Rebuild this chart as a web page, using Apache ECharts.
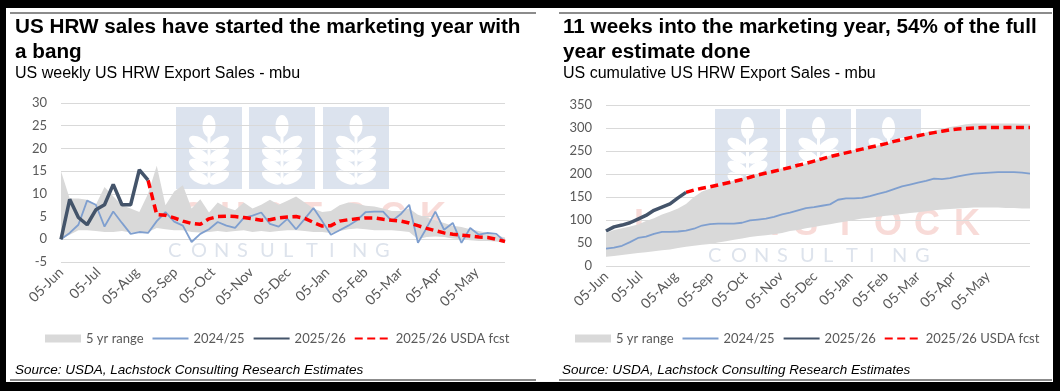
<!DOCTYPE html>
<html><head><meta charset="utf-8">
<script src="https://cdn.jsdelivr.net/npm/echarts@6/dist/echarts.min.js"></script>
<style>html,body{margin:0;padding:0;background:#fff}#c{width:1064px;height:391px}</style>
</head><body><div id="c"></div>
<script>
// ---- tick labels (x axis: days since 05-Jun) ----
const tickLabels = ['05-Jun','05-Jul','05-Aug','05-Sep','05-Oct','05-Nov','05-Dec','05-Jan','05-Feb','05-Mar','05-Apr','05-May'];
const tickDays   = [0,30,61,92,122,153,183,214,245,273,304,334];
const legendNames = ['5 yr range','2024/25','2025/26','2025/26 USDA fcst'];

// ---- left panel: weekly export sales (mbu), week 0 = 05-Jun ----
const weeklyBandHigh = [15.0,9.0,9.0,8.7,7.6,11.5,9.5,7.5,6.8,6.0,10.0,16.2,7.5,10.5,11.9,6.8,8.8,5.9,8.1,7.0,6.4,8.1,6.8,7.6,8.7,7.6,8.5,9.4,8.1,6.8,6.0,6.2,7.5,8.1,7.8,7.4,7.2,6.8,6.2,6.2,6.8,5.4,4.8,4.2,3.6,3.0,2.7,2.2,1.8,1.4,0.9,0.4];
const weeklyBandLow  = [0,1.0,2.0,2.0,1.8,1.6,1.6,1.8,1.5,1.5,1.6,2.5,2.2,2.0,2.0,1.6,1.5,1.6,1.8,1.6,1.8,2.0,1.6,1.8,1.6,1.8,2.0,2.0,1.8,1.6,1.6,1.4,1.8,2.2,2.4,2.2,2.0,2.0,2.0,1.8,1.6,0.0,0.5,0.6,0.5,0.2,0.0,-0.2,-0.4,-0.4,-0.5,-0.8];
const weekly2425 = [0,1.4,3.2,8.5,7.6,2.8,6.1,3.6,1.2,1.6,1.4,4.0,6.0,3.9,3.0,-0.6,1.2,2.2,3.8,3.0,2.5,4.7,5.2,5.9,3.4,2.8,4.5,2.2,4.5,6.9,4.0,1.0,2.0,3.0,4.2,6.0,6.1,6.1,4.0,5.5,7.6,-0.8,2.5,6.1,2.1,3.6,-0.8,2.5,1.0,1.4,1.2,-0.5];
const weekly2526 = [0,8.8,4.8,3.2,6.5,7.6,12.1,7.6,7.6,15.3,13.0];           // weeks 0-10
const weeklyFcst = [13.0,5.4,5.3,4.7,4.0,3.5,3.3,4.5,5.0,5.1,5.0,4.8,4.5,4.2,4.3,4.7,4.9,5.0,4.6,3.7,2.9,3.0,4.0,4.3,4.5,4.7,4.7,4.4,4.2,4.0,3.6,3.0,2.4,1.9,1.4,1.1,0.9,0.7,0.5,0.4,0.0,-0.5]; // weeks 10-51

// ---- right panel: cumulative export sales (mbu) ----
const cumBandHigh = [72,78,82,86,90,98,104,112,118,125,135,150,162,168,174,180,186,192,196,200,204,208,212,216,219,223,228,234,240,244,248,252,255,258,262,266,270,275,280,285,290,294,298,302,305,308,310,310,310,310,310,310,309,309];
const cumBandLow  = [20,22,24,26,28,30,32,34,36,39,42,44,46,48,51,54,57,60,63,65,67,69,72,76,78,82,85,88,91,94,97,100,103,105,107,109,111,113,115,117,119,121,123,124,125,126,127,127,127,127,126,126,125,125];
const cum2425 = [38,40,44,52,61,64,70,74,74,75,77,81,88,91,92,92,92,94,99,101,103,107,112,116,121,126,128,131,134,144,147,147,148,152,157,161,167,173,177,181,185,190,189,191,195,198,201,202,203,204,204,204,203,201];
const cum2526 = [76,85,89,94,102,110,121,128,135,148,160];                   // weeks 0-10
const cumFcst = [160,165,169,172,176,180,184,188,193,198,202,206,210,214,219,223,228,233,238,242,246,250,254,258,262,266,271,275,279,283,287,290,293,296,298,299,300,301,301,301,301,301,301,301]; // weeks 10-53
const FCST_START_WEEK = 10;

// ---- helpers ----
const weekCats = n => Array.from({ length: n }, (_, i) => 'W' + i);
const pad = (vals, start) => new Array(start).fill(null).concat(vals);
const diff = (hi, lo) => hi.map((v, i) => +(v - lo[i]).toFixed(3));

const GREY = '#595959';
const AX_FONT = 'Lato';

function panelSeries(idx, bandLow, bandHigh, prev, cur, fcst) {
  const ax = { xAxisIndex: idx * 2, yAxisIndex: idx };
  const stack = 'band' + idx;
  return [
    { ...ax, type: 'line', name: 'base' + idx, stack, stackStrategy: 'all', data: bandLow,
      symbol: 'none', lineStyle: { opacity: 0, width: 0 }, silent: true, z: 2 },
    { ...ax, type: 'line', name: legendNames[0], stack, stackStrategy: 'all', data: diff(bandHigh, bandLow),
      symbol: 'none', color: '#d9d9d9', lineStyle: { opacity: 0, width: 0 }, areaStyle: { color: '#d9d9d9', opacity: 1 }, silent: true, z: 2 },
    { ...ax, type: 'line', name: legendNames[1], data: prev, symbol: 'none', color: '#7f9fcf',
      lineStyle: { width: 1.8 }, z: 3 },
    { ...ax, type: 'line', name: legendNames[3], data: pad(fcst, FCST_START_WEEK), symbol: 'none', color: '#ff0000',
      lineStyle: { width: 3.5, type: [8, 4.5] }, z: 4 },
    { ...ax, type: 'line', name: legendNames[2], data: cur, symbol: 'none', color: '#44546a',
      lineStyle: { width: 3.5 }, z: 5 }
  ];
}

function xAxesFor(idx, nWeeks) {
  return [
    { // data axis: one category per week
      type: 'category', gridIndex: idx, data: weekCats(nWeeks), boundaryGap: false,
      axisLine: { show: false }, axisTick: { show: false }, axisLabel: { show: false }, splitLine: { show: false }
    },
    { // label axis: days since 05-Jun, same pixel span
      type: 'value', gridIndex: idx, min: 0, max: (nWeeks - 1) * 7,
      position: 'bottom',
      axisLine: { show: false, onZero: false }, axisTick: { show: false }, splitLine: { show: false },
      axisLabel: {
        customValues: tickDays, rotate: 45, margin: 8, color: GREY, fontFamily: AX_FONT, fontSize: 14,
        formatter: v => tickLabels[tickDays.indexOf(v)]
      }
    }
  ];
}
function yAxisFor(idx, min, max, step) {
  return {
    type: 'value', gridIndex: idx, min, max, interval: step,
    axisLine: { show: false }, axisTick: { show: false },
    splitLine: { lineStyle: { color: '#d9d9d9', width: 1 } },
    axisLabel: { margin: 14, color: GREY, fontFamily: AX_FONT, fontSize: 13 }
  };
}
function legendAt(left) {
  return {
    left, top: 327, width: 480, itemWidth: 36, itemHeight: 8, itemGap: 8, selectedMode: false,
    itemStyle: { opacity: 0 },
    textStyle: { color: GREY, fontFamily: AX_FONT, fontSize: 13 },
    data: [
      { name: legendNames[0], icon: 'rect', itemStyle: { opacity: 1, color: '#d9d9d9' } },
      legendNames[1], legendNames[2], legendNames[3]
    ]
  };
}

// ---- watermark logo ----
function logo(o) {
  const els = [];
  o.sqX.forEach(sx => {
    els.push({ type: 'rect', silent: true, z: 0, shape: { x: sx, y: o.sqY, width: o.sqW, height: o.sqH }, style: { fill: '#dce3ee' } });
    const cx = sx + o.sqW / 2;
    els.push({ type: 'ellipse', silent: true, z: 0, x: cx, y: o.sqY + 19, shape: { cx: 0, cy: 0, rx: 6.5, ry: 11 }, style: { fill: '#fff' } });
    els.push({ type: 'rect', silent: true, z: 0, shape: { x: cx - 1.5, y: o.sqY + 24, width: 3, height: o.sqH - 32 }, style: { fill: '#fff' } });
    for (let k = 0; k < 4; k++) {
      const y = o.sqY + 36 + k * 11.5;
      els.push({ type: 'ellipse', silent: true, z: 0, x: cx - 10, y, rotation: -0.5, shape: { cx: 0, cy: 0, rx: 11, ry: 5.5 }, style: { fill: '#fff' } });
      els.push({ type: 'ellipse', silent: true, z: 0, x: cx + 10, y, rotation: 0.5, shape: { cx: 0, cy: 0, rx: 11, ry: 5.5 }, style: { fill: '#fff' } });
    }
  });
  'LACHSTOCK'.split('').forEach((ch, i) => {
    els.push({ type: 'text', silent: true, z: 0, x: o.lachX + i * 40, y: o.lachY,
      style: { text: ch, font: 'bold 36px "Liberation Sans"', fill: '#f8dbd8', verticalAlign: 'middle' } });
  });
  'CONSULTING'.split('').forEach((ch, i) => {
    els.push({ type: 'text', silent: true, z: 0, x: o.consX + i * 23, y: o.consY,
      style: { text: ch, font: '20px "Lato"', fill: '#dde3ec', verticalAlign: 'middle' } });
  });
  return els;
}

function txt(x, y, text, font) {
  return { type: 'text', z: 50, x, y, style: { text, font, fill: '#000', verticalAlign: 'middle' } };
}

const frame = [
  { type: 'rect', z: 100, shape: { x: 0, y: 0, width: 1060, height: 8 }, style: { fill: '#000' } },
  { type: 'rect', z: 100, shape: { x: 0, y: 0, width: 6, height: 391 }, style: { fill: '#000' } },
  { type: 'rect', z: 100, shape: { x: 1053, y: 0, width: 7, height: 391 }, style: { fill: '#000' } },
  { type: 'rect', z: 100, shape: { x: 0, y: 382, width: 1060, height: 9 }, style: { fill: '#000' } },
  { type: 'rect', z: 100, shape: { x: 10, y: 12, width: 526, height: 2 }, style: { fill: '#8c8c8c' } },
  { type: 'rect', z: 100, shape: { x: 559, y: 12, width: 493, height: 2 }, style: { fill: '#8c8c8c' } },
  { type: 'rect', z: 100, shape: { x: 10, y: 379, width: 526, height: 2 }, style: { fill: '#8c8c8c' } },
  { type: 'rect', z: 100, shape: { x: 559, y: 379, width: 493, height: 2 }, style: { fill: '#8c8c8c' } }
];

const TITLE = 'bold 20.7px "Liberation Sans"';
const SUB = '16px "Liberation Sans"';
const SRC = 'italic 13.5px "Liberation Sans"';
const texts = [
  txt(15, 27, 'US HRW sales have started the marketing year with', TITLE),
  txt(15, 52, 'a bang', TITLE),
  txt(15, 74, 'US weekly US HRW Export Sales - mbu', SUB),
  txt(15, 370, 'Source: USDA, Lachstock Consulting Research Estimates', SRC),
  txt(563, 27, '11 weeks into the marketing year, 54% of the full', TITLE),
  txt(563, 52, 'year estimate done', TITLE),
  txt(563, 74, 'US cumulative US HRW Export Sales - mbu', SUB),
  txt(562, 370, 'Source: USDA, Lachstock Consulting Research Estimates', SRC)
];

const option = {
  animation: false,
  backgroundColor: '#fff',
  grid: [
    { left: 61, top: 103, width: 444, height: 159 },
    { left: 606, top: 105, width: 424, height: 161 }
  ],
  xAxis: [...xAxesFor(0, weekly2425.length), ...xAxesFor(1, cum2425.length)],
  yAxis: [yAxisFor(0, -5, 30, 5), yAxisFor(1, 0, 350, 50)],
  legend: [legendAt(40), legendAt(570)],
  graphic: { elements: [
    ...logo({ sqX: [176, 249, 323], sqY: 107, sqW: 66, sqH: 82, lachX: 100, lachY: 218, consX: 168, consY: 251 }),
    ...logo({ sqX: [715, 786, 856], sqY: 109, sqW: 65, sqH: 81, lachX: 634, lachY: 225, consX: 708, consY: 256 }),
    ...texts, ...frame
  ] },
  series: [
    ...panelSeries(0, weeklyBandLow, weeklyBandHigh, weekly2425, weekly2526, weeklyFcst),
    ...panelSeries(1, cumBandLow, cumBandHigh, cum2425, cum2526, cumFcst)
  ]
};

const chart = echarts.init(document.getElementById('c'), null, { renderer: 'canvas' });
chart.setOption(option);
</script>
</body></html>
